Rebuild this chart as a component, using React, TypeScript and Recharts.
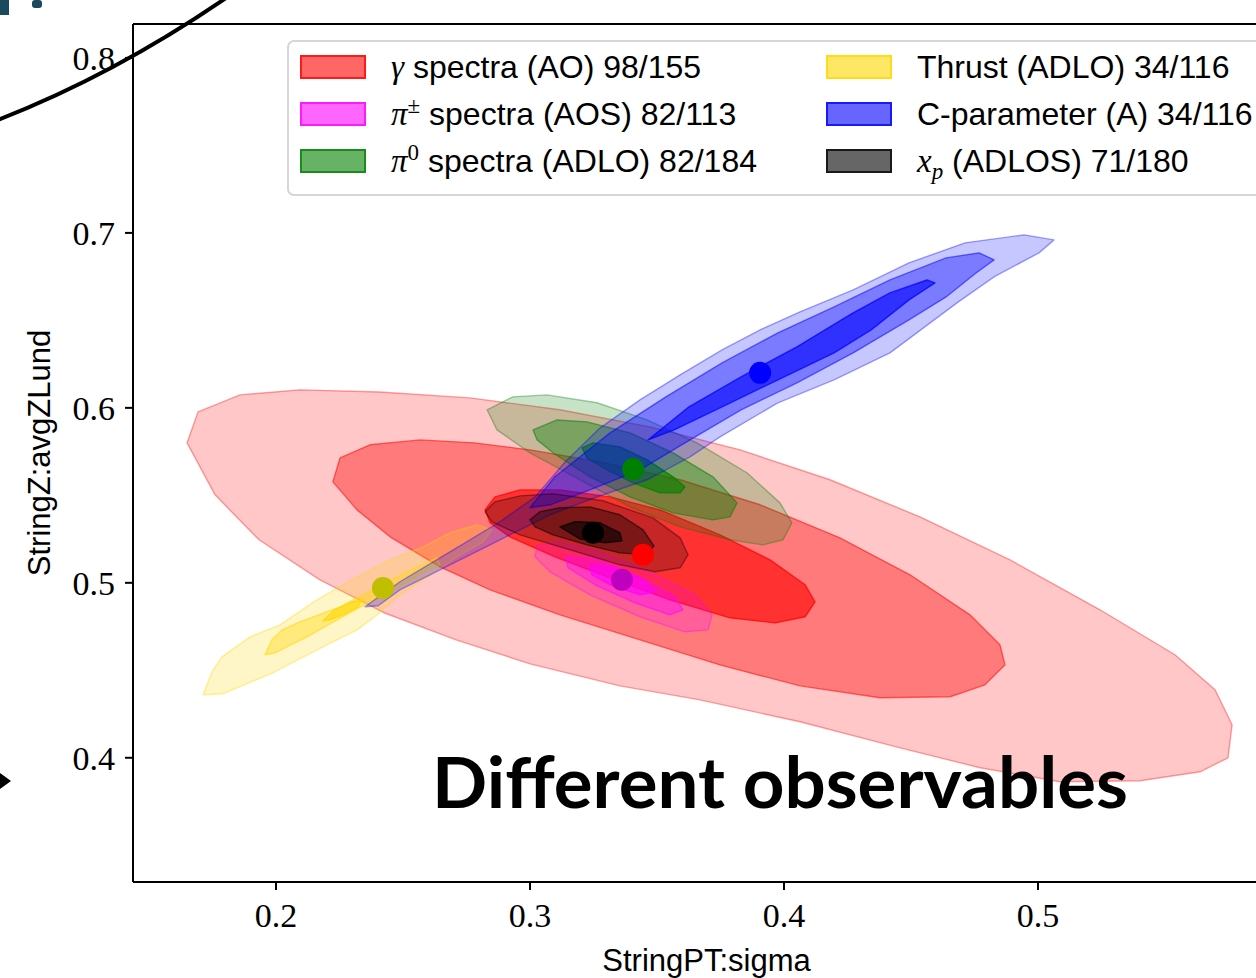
import React from 'react';
import { Legend, ReferenceLine, Scatter, ScatterChart, XAxis, YAxis } from 'recharts';

type Pair = [number, number];

// axes: StringPT:sigma (x) vs StringZ:avgZLund (y)
const xDomain: Pair = [0.1437, 0.5992];
const yDomain: Pair = [0.329, 0.8194];
const xTicks = [0.2, 0.3, 0.4, 0.5];
const yTicks = [0.4, 0.5, 0.6, 0.7, 0.8];

// confidence contours, outer -> inner, as polygon vertices (sigma, avgZLund)
const gammaOuter: Pair[] = [
  [0.165, 0.58], [0.1693, 0.5977], [0.1858, 0.6074], [0.2094, 0.6103], [0.2409, 0.6091],
  [0.2764, 0.6057], [0.3118, 0.5989], [0.3472, 0.5891], [0.3827, 0.576], [0.4181, 0.5589],
  [0.4535, 0.5377], [0.489, 0.5131], [0.5244, 0.4846], [0.5539, 0.4589], [0.5697, 0.4389],
  [0.5764, 0.4189], [0.5748, 0.4], [0.5638, 0.392], [0.5402, 0.3869], [0.5087, 0.3863],
  [0.4772, 0.3943], [0.4457, 0.4057], [0.4063, 0.4206], [0.3669, 0.4331], [0.3354, 0.4411],
  [0.3, 0.4537], [0.2709, 0.4674], [0.2425, 0.4829], [0.2173, 0.5017], [0.1933, 0.5246],
  [0.176, 0.5503],
];
const gammaMid: Pair[] = [
  [0.2224, 0.5577], [0.2252, 0.5714], [0.237, 0.5789], [0.2567, 0.5817], [0.278, 0.58],
  [0.3, 0.576], [0.3276, 0.5691], [0.3591, 0.5589], [0.3906, 0.5446], [0.422, 0.5257],
  [0.4496, 0.5046], [0.4732, 0.4817], [0.485, 0.4646], [0.487, 0.4531], [0.4791, 0.4417],
  [0.4654, 0.4349], [0.4378, 0.4343], [0.4063, 0.4411], [0.3748, 0.4531], [0.3433, 0.4674],
  [0.3118, 0.4817], [0.2843, 0.496], [0.2646, 0.5091], [0.2449, 0.5263], [0.2319, 0.5417],
];
const gammaInner: Pair[] = [
  [0.2823, 0.5417], [0.2862, 0.5491], [0.2961, 0.5531], [0.3118, 0.5531], [0.3315, 0.5491],
  [0.3512, 0.5417], [0.3748, 0.5274], [0.3945, 0.5131], [0.4083, 0.4989], [0.4122, 0.4891],
  [0.4083, 0.4806], [0.3965, 0.4771], [0.3787, 0.48], [0.3551, 0.4903], [0.3315, 0.5029],
  [0.3098, 0.5149], [0.2921, 0.5263], [0.2843, 0.5343],
];

const piChargedOuter: Pair[] = [
  [0.3028, 0.5217], [0.3118, 0.5234], [0.3276, 0.5177], [0.3472, 0.5063], [0.365, 0.4931],
  [0.3717, 0.4817], [0.3701, 0.4731], [0.361, 0.472], [0.3433, 0.4806], [0.3236, 0.4931],
  [0.3079, 0.5063], [0.302, 0.5149],
];
const piChargedMid: Pair[] = [
  [0.3138, 0.5154], [0.3276, 0.5131], [0.3433, 0.5029], [0.3571, 0.492], [0.3602, 0.4846],
  [0.3551, 0.4817], [0.3413, 0.4886], [0.3256, 0.4989], [0.315, 0.5086],
];
const piChargedInner: Pair[] = [
  [0.3236, 0.5103], [0.3335, 0.5086], [0.3453, 0.5017], [0.3492, 0.4949], [0.3433, 0.4931],
  [0.3315, 0.4989], [0.3244, 0.5046],
];

const piZeroOuter: Pair[] = [
  [0.2831, 0.5989], [0.2933, 0.6063], [0.3067, 0.6074], [0.3264, 0.6029], [0.3461, 0.5931],
  [0.3657, 0.58], [0.3854, 0.5629], [0.3984, 0.5457], [0.4031, 0.5343], [0.3996, 0.5246],
  [0.3917, 0.5217], [0.3787, 0.5246], [0.3591, 0.532], [0.3394, 0.5434], [0.3197, 0.5589],
  [0.3, 0.5743], [0.287, 0.5874],
];
const piZeroMid: Pair[] = [
  [0.3012, 0.5874], [0.3106, 0.5931], [0.3224, 0.592], [0.3394, 0.5857], [0.3563, 0.5743],
  [0.372, 0.5606], [0.3815, 0.5457], [0.3787, 0.5377], [0.372, 0.536], [0.3563, 0.54],
  [0.3394, 0.5491], [0.3236, 0.5606], [0.3091, 0.5743], [0.3028, 0.5817],
];
const piZeroInner: Pair[] = [
  [0.3205, 0.5771], [0.3248, 0.58], [0.3354, 0.5777], [0.3461, 0.5703], [0.3563, 0.5606],
  [0.361, 0.5549], [0.3591, 0.5514], [0.3512, 0.5514], [0.3406, 0.5571], [0.3303, 0.5646],
  [0.3224, 0.5714],
];

const thrustOuter: Pair[] = [
  [0.1713, 0.436], [0.1748, 0.4491], [0.1787, 0.4577], [0.1898, 0.4691], [0.2016, 0.476],
  [0.2161, 0.4903], [0.2319, 0.5034], [0.2449, 0.5131], [0.2579, 0.5206], [0.2685, 0.5286],
  [0.2791, 0.5331], [0.285, 0.5303], [0.2815, 0.5234], [0.2713, 0.5149], [0.2579, 0.5017],
  [0.2476, 0.492], [0.2409, 0.4829], [0.2319, 0.4731], [0.2185, 0.4634], [0.1988, 0.4486],
  [0.1791, 0.4366],
];
const thrustMid: Pair[] = [
  [0.1957, 0.4589], [0.1984, 0.4674], [0.2024, 0.4731], [0.2094, 0.4777], [0.2252, 0.4863],
  [0.2382, 0.496], [0.2516, 0.5063], [0.2634, 0.5143], [0.2646, 0.5103], [0.2579, 0.5057],
  [0.2449, 0.4949], [0.2291, 0.4829], [0.2122, 0.4691], [0.1996, 0.46],
];
const thrustInner: Pair[] = [
  [0.2185, 0.4783], [0.2232, 0.4846], [0.2291, 0.4886], [0.2339, 0.4903], [0.2323, 0.4863],
  [0.2272, 0.4823], [0.2213, 0.4789],
];

const cParamOuter: Pair[] = [
  [0.235, 0.4863], [0.2488, 0.5006], [0.2685, 0.5177], [0.2882, 0.5349], [0.302, 0.5491],
  [0.3138, 0.5691], [0.3276, 0.5886], [0.3433, 0.6046], [0.3591, 0.6189], [0.3756, 0.6331],
  [0.3906, 0.6446], [0.4063, 0.6549], [0.4272, 0.6674], [0.4492, 0.6829], [0.4713, 0.6943],
  [0.4945, 0.6989], [0.5063, 0.696], [0.5004, 0.6886], [0.4827, 0.6749], [0.4681, 0.66],
  [0.4417, 0.6314], [0.4197, 0.616], [0.3976, 0.6029], [0.3748, 0.5834], [0.363, 0.572],
  [0.3461, 0.5589], [0.3264, 0.5491], [0.3079, 0.5389], [0.2882, 0.5246], [0.2685, 0.5103],
  [0.2488, 0.496], [0.2402, 0.4869],
];
const cParamMid: Pair[] = [
  [0.3, 0.5429], [0.3098, 0.5606], [0.3315, 0.5857], [0.3535, 0.6063], [0.3756, 0.6257],
  [0.3976, 0.6429], [0.4197, 0.6577], [0.4417, 0.6731], [0.4638, 0.6857], [0.4768, 0.6886],
  [0.4827, 0.6846], [0.4756, 0.6771], [0.4638, 0.6634], [0.4492, 0.6503], [0.4272, 0.6314],
  [0.4051, 0.6143], [0.3831, 0.5989], [0.363, 0.5817], [0.3433, 0.5646], [0.3236, 0.5531],
  [0.3079, 0.5446],
];
const cParamInner: Pair[] = [
  [0.3465, 0.5817], [0.3626, 0.6006], [0.3831, 0.6177], [0.4051, 0.6349], [0.4272, 0.6543],
  [0.4417, 0.6657], [0.4563, 0.6731], [0.4594, 0.6714], [0.4492, 0.6617], [0.4343, 0.6446],
  [0.4197, 0.6314], [0.3976, 0.616], [0.3756, 0.6006], [0.3567, 0.5874],
];

const xpOuter: Pair[] = [
  [0.2823, 0.5406], [0.2862, 0.5463], [0.2961, 0.5497], [0.3091, 0.5509], [0.3287, 0.5469],
  [0.3484, 0.5371], [0.3591, 0.5257], [0.3622, 0.516], [0.3591, 0.5086], [0.3492, 0.5063],
  [0.3354, 0.5103], [0.3157, 0.5189], [0.2961, 0.5274], [0.285, 0.5349],
];
const xpMid: Pair[] = [
  [0.3, 0.536], [0.3039, 0.5406], [0.3118, 0.5429], [0.3236, 0.5434], [0.3354, 0.5389],
  [0.3445, 0.5303], [0.3488, 0.5211], [0.3461, 0.516], [0.3354, 0.5171], [0.3224, 0.5217],
  [0.3091, 0.5274], [0.302, 0.532],
];
const xpInner: Pair[] = [
  [0.3118, 0.532], [0.3177, 0.5349], [0.3276, 0.5343], [0.3354, 0.5286], [0.3362, 0.524],
  [0.3295, 0.5229], [0.3197, 0.5251],
];

// best-fit points
const gammaBest: Pair = [0.3445, 0.516];
const piChargedBest: Pair = [0.3362, 0.5017];
const piZeroBest: Pair = [0.3406, 0.5651];
const thrustBest: Pair = [0.2421, 0.4971];
const cParamBest: Pair = [0.3906, 0.62];
const xpBest: Pair = [0.3248, 0.5286];

const observables = [
  { key: 'gamma', color: '#ff0000', dot: '#ff0000', levels: [gammaOuter, gammaMid, gammaInner], best: gammaBest },
  { key: 'piCharged', color: '#ff00ff', dot: '#bf00bf', levels: [piChargedOuter, piChargedMid, piChargedInner], best: piChargedBest },
  { key: 'piZero', color: '#008000', dot: '#008000', levels: [piZeroOuter, piZeroMid, piZeroInner], best: piZeroBest },
  { key: 'thrust', color: '#ffd700', dot: '#bfbf00', levels: [thrustOuter, thrustMid, thrustInner], best: thrustBest },
  { key: 'cParam', color: '#0000ff', dot: '#0000ff', levels: [cParamOuter, cParamMid, cParamInner], best: cParamBest },
  { key: 'xp', color: '#000000', dot: '#000000', levels: [xpOuter, xpMid, xpInner], best: xpBest },
];

const LEVEL_ALPHA = [0.22, 0.38, 0.6];

const legendRows = [
  { key: 'gamma', color: '#ff0000', sym: 'γ', sup: '', sub: '', text: ' spectra (AO) 98/155' },
  { key: 'piCharged', color: '#ff00ff', sym: 'π', sup: '±', sub: '', text: ' spectra (AOS) 82/113' },
  { key: 'piZero', color: '#008000', sym: 'π', sup: '0', sub: '', text: ' spectra (ADLO) 82/184' },
  { key: 'thrust', color: '#ffd700', sym: '', sup: '', sub: '', text: 'Thrust (ADLO) 34/116' },
  { key: 'cParam', color: '#0000ff', sym: '', sup: '', sub: '', text: 'C-parameter (A) 34/116' },
  { key: 'xp', color: '#000000', sym: 'x', sup: '', sub: 'p', text: ' (ADLOS) 71/180' },
];

const toPoints = (pairs: Pair[]) => pairs.map(([x, y]) => ({ x, y }));

const hexA = (hex: string, a: number) => {
  const n = parseInt(hex.slice(1), 16);
  return `rgba(${(n >> 16) & 255},${(n >> 8) & 255},${n & 255},${a})`;
};

// closes the scatter's joint line into a filled contour
const contourShape = (color: string, alpha: number) => (props: any) => {
  const pts = props.points || [];
  if (!pts.length) return <g />;
  const d = 'M' + pts.map((p: any) => `${p.x},${p.y}`).join('L') + 'Z';
  return (
    <path
      d={d}
      fill={color}
      fillOpacity={alpha}
      stroke={color}
      strokeOpacity={Math.min(1, alpha + 0.15)}
      strokeWidth={1.4}
      strokeLinejoin='round'
    />
  );
};

const noMarker = () => <g />;

const mathFont = { fontFamily: '"Liberation Serif", serif', fontStyle: 'italic' as const };

function LegendBox() {
  return (
    <div
      style={{
        position: 'relative',
        width: 1000,
        height: 156,
        boxSizing: 'border-box',
        border: '2px solid #d6d6d6',
        borderRadius: 7,
        background: 'rgba(255,255,255,0.8)',
        fontFamily: '"Liberation Sans", Arial, sans-serif',
        fontSize: 32,
        color: '#000',
      }}
    >
      {legendRows.map((row, i) => {
        const col = i < 3 ? 0 : 1;
        const r = i % 3;
        return (
          <div
            key={row.key}
            style={{
              position: 'absolute',
              left: col === 0 ? 11 : 537,
              top: 5 + r * 47,
              height: 40,
              display: 'flex',
              alignItems: 'center',
              whiteSpace: 'nowrap',
            }}
          >
            <span
              style={{
                display: 'inline-block',
                width: 62,
                height: 20,
                background: hexA(row.color, 0.6),
                border: `2px solid ${hexA(row.color, 0.75)}`,
                marginRight: 25,
              }}
            />
            <span>
              {row.sym && <span style={{ ...mathFont, fontSize: 33 }}>{row.sym}</span>}
              {row.sup && (
                <sup style={{ fontFamily: '"Liberation Serif", serif', fontSize: 23, verticalAlign: 0, position: 'relative', top: -12 }}>
                  {row.sup}
                </sup>
              )}
              {row.sub && (
                <sub style={{ ...mathFont, fontSize: 23, verticalAlign: 0, position: 'relative', top: 7 }}>{row.sub}</sub>
              )}
              {row.text}
            </span>
          </div>
        );
      })}
    </div>
  );
}

const tickFont = { fontFamily: '"Liberation Serif", serif', fontSize: 34, fill: '#000' };
const labelFont = { fontFamily: '"Liberation Sans", Arial, sans-serif', fontSize: 31, fill: '#000' };

export default function App() {
  return (
    <div style={{ position: 'absolute', left: 0, top: 0, width: 1256, height: 978, overflow: 'hidden', background: '#fff' }}>
      <ScatterChart width={1300} height={978} margin={{ top: 24, right: 10, bottom: 0, left: 0 }}>
        <XAxis
          type='number'
          dataKey='x'
          domain={xDomain}
          ticks={xTicks}
          interval={0}
          allowDataOverflow
          height={96}
          tickSize={8}
          tickMargin={13}
          tick={tickFont}
          axisLine={{ stroke: '#000', strokeWidth: 2 }}
          tickLine={{ stroke: '#000', strokeWidth: 2 }}
          tickFormatter={(v: number) => v.toFixed(1)}
          label={{ value: 'StringPT:sigma', position: 'insideBottom', offset: 7, dx: -5, style: labelFont }}
        />
        <YAxis
          type='number'
          dataKey='y'
          domain={yDomain}
          ticks={yTicks}
          interval={0}
          allowDataOverflow
          width={133}
          tickSize={8}
          tickMargin={10}
          tick={tickFont}
          axisLine={{ stroke: '#000', strokeWidth: 2 }}
          tickLine={{ stroke: '#000', strokeWidth: 2 }}
          tickFormatter={(v: number) => v.toFixed(1)}
          label={{
            value: 'StringZ:avgZLund',
            angle: -90,
            position: 'insideLeft',
            offset: 39,
            style: { ...labelFont, textAnchor: 'middle' },
          }}
        />
        <ReferenceLine y={yDomain[1]} stroke='#000' strokeWidth={2} />
        {observables.flatMap((o) =>
          o.levels.map((lvl, i) => (
            <Scatter
              key={`${o.key}-${i}`}
              data={toPoints(lvl)}
              line={contourShape(o.color, LEVEL_ALPHA[i])}
              lineType='joint'
              shape={noMarker}
              legendType='none'
              isAnimationActive={false}
            />
          )),
        )}
        {observables.map((o) => (
          <Scatter
            key={`${o.key}-best`}
            data={[{ x: o.best[0], y: o.best[1] }]}
            shape={(p: any) => <circle cx={p.cx} cy={p.cy} r={11} fill={o.dot} />}
            legendType='none'
            isAnimationActive={false}
          />
        ))}
        <Legend
          layout='horizontal'
          verticalAlign='middle'
          align='center'
          wrapperStyle={{ left: 287, top: 40, width: 1000, height: 156 }}
          content={() => <LegendBox />}
        />
      </ScatterChart>
      <svg
        width={1256}
        height={978}
        style={{ position: 'absolute', left: 0, top: 0, pointerEvents: 'none' }}
      >
        <rect x={0} y={0} width={9} height={15} fill='#1b4a5e' />
        <rect x={32} y={0} width={10} height={8} rx={3} fill='#1b4a5e' />
        <path d='M -5,121 Q 112,76 226,-2' fill='none' stroke='#000' strokeWidth={4} />
        <polygon points='0,773 11,781 0,789' fill='#000' />
        <text
          x={432}
          y={808}
          fontFamily='Lato, "Open Sans", sans-serif'
          fontWeight={700}
          fontSize={70}
          textLength={696}
          lengthAdjust='spacingAndGlyphs'
          fill='#000'
        >
          Different observables
        </text>
      </svg>
    </div>
  );
}
